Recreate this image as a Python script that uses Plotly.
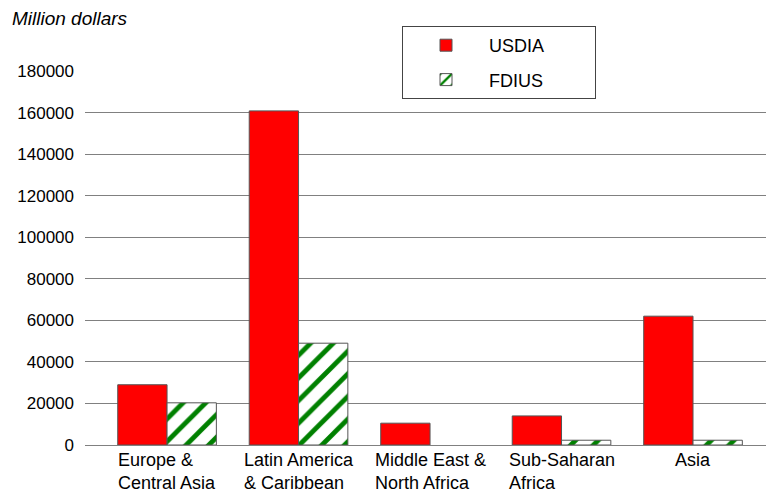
import plotly.graph_objects as go

regions = ["Europe &<br>Central Asia", "Latin America<br>& Caribbean", "Middle East &<br>North Africa",
           "Sub-Saharan<br>Africa", "Asia"]
usdia = [29000, 160800, 10500, 14000, 62000]
fdius = [20300, 49000, None, 2300, 2300]
y_ticks = [0, 20000, 40000, 60000, 80000, 100000, 120000, 140000, 160000, 180000]

FONT = "Liberation Sans, Arial, sans-serif"
NB = "\u00a0"
xs = list(range(len(regions)))

L, R, T, B = 85, 0, 71, 50
W, H = 766, 495
PW, PH = W - L - R, H - T - B

fig = go.Figure()
fig.add_trace(go.Bar(
    x=xs, y=usdia, name="USDIA" + NB * 9, legendgroup="a",
    marker=dict(color="#ff0000", line=dict(color="#555555", width=1)),
))
fig.add_trace(go.Bar(
    x=xs, y=fdius, name="FDIUS" + NB * 9, legendgroup="b",
    marker=dict(color="white", line=dict(color="#555555", width=1),
                pattern=dict(shape="/", fgcolor="#008000", bgcolor="white", fgopacity=1,
                             size=16, solidity=0.3)),
))

for i, r in enumerate(regions):
    fig.add_annotation(x=i, y=0, xref="x", yref="y", text=r, showarrow=False,
                       xanchor="center", yanchor="top", align="left", yshift=-3,
                       font=dict(family=FONT, size=18, color="black"))

fig.add_annotation(x=(10 - L) / PW, y=1, xref="paper", yref="paper", text="<i>Million dollars</i>",
                   showarrow=False, xanchor="left", yanchor="middle", yshift=T - 18,
                   font=dict(family=FONT, size=19, color="black"))

fig.update_layout(
    width=W, height=H,
    margin=dict(l=L, r=R, t=T, b=B, autoexpand=False),
    paper_bgcolor="white", plot_bgcolor="white",
    barmode="group", bargap=0.25, bargroupgap=0,
    font=dict(family=FONT, size=18, color="black"),
    showlegend=True,
    legend=dict(x=(402 - L) / PW, y=1 + (T - 26) / PH, xanchor="left", yanchor="top",
                bgcolor="white", bordercolor="#444444", borderwidth=1,
                font=dict(family=FONT, size=18, color="black"),
                itemwidth=76, tracegroupgap=8, traceorder="grouped"),
    xaxis=dict(range=[-0.624, 4.555], showticklabels=False, showgrid=False,
               zeroline=False, showline=False, ticks="", automargin=False),
    yaxis=dict(range=[0, 180000], tickvals=y_ticks, ticktext=[str(v) for v in y_ticks],
               showgrid=True, gridcolor="#808080", gridwidth=1,
               zeroline=True, zerolinecolor="#808080", zerolinewidth=1,
               showline=False, ticks="", ticklabelstandoff=10, automargin=False,
               tickfont=dict(family=FONT, size=17, color="black")),
)

fig.write_html("out.html", config={"displayModeBar": False},
               post_script="document.body.style.margin='0';")
